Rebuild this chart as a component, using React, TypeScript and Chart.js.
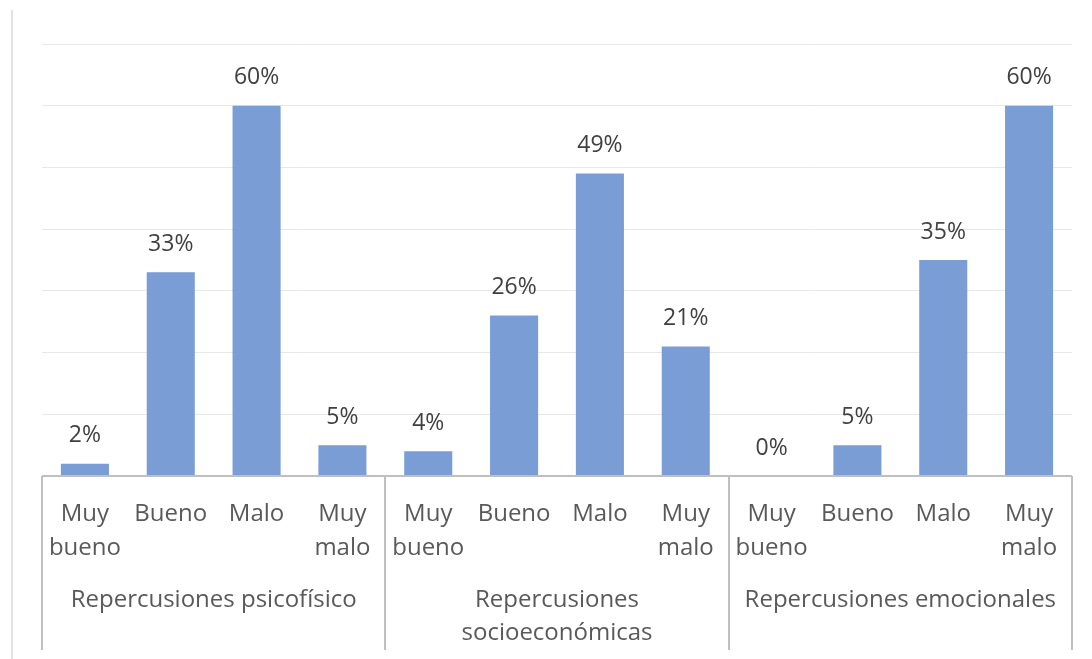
import React, { useEffect, useRef } from "react";
import { Chart, registerables } from "chart.js";

Chart.register(...registerables);

const categories: string[][] = [
  ["Muy", "bueno"], ["Bueno"], ["Malo"], ["Muy", "malo"],
  ["Muy", "bueno"], ["Bueno"], ["Malo"], ["Muy", "malo"],
  ["Muy", "bueno"], ["Bueno"], ["Malo"], ["Muy", "malo"],
];
const values: number[] = [2, 33, 60, 5, 4, 26, 49, 21, 0, 5, 35, 60];
const groups: string[][] = [
  ["Repercusiones psicofísico"],
  ["Repercusiones", "socioeconómicas"],
  ["Repercusiones emocionales"],
];
const groupSize = 4;

const FONT = "'Open Sans', 'Noto Sans', sans-serif";
const TEXT = "#595959";
const AXIS = "#bfbfbf";

const groupPlugin = {
  id: "groupAxis",
  afterDraw(chart: any) {
    const ctx = chart.ctx;
    const xs = chart.scales.x;
    const area = chart.chartArea;
    const n = values.length;
    const step = (xs.getPixelForValue(1) - xs.getPixelForValue(0));
    const bottom = chart.height - 9;
    ctx.save();
    ctx.strokeStyle = AXIS;
    ctx.lineWidth = 2;
    ctx.beginPath();
    ctx.moveTo(area.left, area.bottom);
    ctx.lineTo(area.right, area.bottom);
    ctx.stroke();
    for (let g = 0; g <= groups.length; g++) {
      const idx = g * groupSize;
      const x = Math.round(xs.getPixelForValue(Math.min(idx, n - 1)) + (idx >= n ? step / 2 : -step / 2));
      ctx.beginPath();
      ctx.moveTo(x, area.bottom);
      ctx.lineTo(x, bottom);
      ctx.stroke();
    }
    ctx.fillStyle = TEXT;
    ctx.font = `24px ${FONT}`;
    ctx.textAlign = "center";
    ctx.textBaseline = "middle";
    groups.forEach((lines, g) => {
      const a = xs.getPixelForValue(g * groupSize);
      const b = xs.getPixelForValue(g * groupSize + groupSize - 1);
      const cx = (a + b) / 2;
      lines.forEach((t, i) => {
        ctx.fillText(t, cx, area.bottom + 124 + i * 33);
      });
    });
    // value labels
    const meta = chart.getDatasetMeta(0);
    ctx.fillStyle = "#404040";
    ctx.font = `23px ${FONT}`;
    meta.data.forEach((bar: any, i: number) => {
      ctx.fillText(values[i] + "%", bar.x, bar.y - 28);
    });
    ctx.restore();
  },
};

export default function App() {
  const ref = useRef<HTMLCanvasElement | null>(null);
  useEffect(() => {
    document.body.style.margin = "0";
    const chart = new Chart(ref.current as HTMLCanvasElement, {
      type: "bar",
      data: {
        labels: categories as any,
        datasets: [
          {
            data: values,
            backgroundColor: "#7a9dd6",
            borderWidth: 0,
            categoryPercentage: 1,
            barPercentage: 0.56,
          },
        ],
      },
      options: {
        animation: false,
        responsive: false,
        layout: { padding: { left: 42, right: 20, top: 44, bottom: 0 } },
        plugins: { legend: { display: false }, tooltip: { enabled: false } },
        scales: {
          x: {
            grid: { display: false },
            border: { display: false },
            ticks: {
              color: TEXT,
              font: { family: FONT, size: 24, lineHeight: 1.42 },
              padding: 13,
              maxRotation: 0,
              autoSkip: false,
            },
            afterFit: (s: any) => { s.height = 183; },
          },
          y: {
            min: 0,
            max: 70,
            ticks: { display: false, stepSize: 10 },
            grid: { color: "#e8e8e8", lineWidth: 1, drawTicks: false },
            border: { display: false },
            afterFit: (s: any) => { s.width = 0; },
          },
        },
      },
      plugins: [groupPlugin],
    });
    return () => chart.destroy();
  }, []);
  return (
    <div style={{ position: "relative", width: 1092, height: 659, background: "#fff" }}>
      <div style={{ position: "absolute", left: 11, top: 10, width: 2, height: 649, background: "#e2e2e2" }} />
      <canvas ref={ref} width={1092} height={659} style={{ position: "absolute", left: 0, top: 0 }} />
    </div>
  );
}
